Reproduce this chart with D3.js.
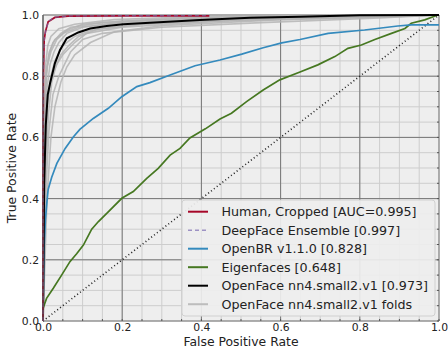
<!DOCTYPE html>
<html>
<head>
<meta charset="utf-8">
<script src="https://cdn.jsdelivr.net/npm/d3@7"></script>
<style>
  html, body { margin: 0; padding: 0; background: #ffffff; }
  svg { display: block; font-family: "DejaVu Sans", sans-serif; }
</style>
</head>
<body>
<svg id="chart" width="448" height="351"></svg>
<script>
// ROC curves: [false positive rate, true positive rate]
const humanCropped = [[0,0],[0,0.5],[0.001,0.8],[0.003,0.918],[0.006,0.945],[0.013,0.978],[0.03,0.992],[0.063,0.996],[0.2,0.997],[0.42,0.997]];
const deepFace = [[0,0],[0,0.55],[0.001,0.82],[0.003,0.92],[0.007,0.95],[0.014,0.98],[0.03,0.993],[0.07,0.997],[0.42,0.998]];
const openBR = [[0,0],[0.001,0.12],[0.003,0.25],[0.006,0.33],[0.01,0.39],[0.013,0.43],[0.022,0.47],[0.035,0.515],[0.056,0.564],[0.077,0.602],[0.093,0.626],[0.127,0.662],[0.165,0.695],[0.199,0.733],[0.237,0.766],[0.27,0.779],[0.321,0.804],[0.384,0.834],[0.447,0.853],[0.502,0.872],[0.556,0.893],[0.603,0.909],[0.649,0.92],[0.72,0.94],[0.812,0.951],[0.896,0.964],[0.93,0.968],[1,0.968]];
const eigenfaces = [[0,0],[0,0.041],[0.009,0.074],[0.026,0.107],[0.047,0.15],[0.068,0.194],[0.085,0.22],[0.102,0.248],[0.123,0.3],[0.14,0.325],[0.161,0.352],[0.199,0.401],[0.228,0.423],[0.262,0.466],[0.291,0.499],[0.321,0.542],[0.346,0.564],[0.371,0.598],[0.41,0.628],[0.447,0.66],[0.476,0.679],[0.514,0.717],[0.556,0.755],[0.598,0.788],[0.649,0.814],[0.694,0.837],[0.737,0.864],[0.77,0.891],[0.804,0.902],[0.838,0.92],[0.88,0.94],[0.914,0.956],[0.93,0.973],[0.964,0.984],[0.997,1],[1,1]];
const openFace = [[0,0],[0.003,0.45],[0.007,0.64],[0.012,0.74],[0.018,0.778],[0.03,0.842],[0.043,0.886],[0.06,0.924],[0.089,0.943],[0.119,0.956],[0.161,0.964],[0.203,0.97],[0.27,0.975],[0.396,0.984],[0.523,0.991],[0.649,0.994],[0.8,0.999],[1,1]];
const openFaceFolds = [
  [[0,0],[0.003,0.55],[0.006,0.75],[0.01,0.83],[0.02,0.88],[0.035,0.92],[0.06,0.95],[0.1,0.97],[0.2,0.98],[0.4,0.99],[0.7,0.997],[1,1]],
  [[0,0],[0.005,0.5],[0.01,0.7],[0.02,0.8],[0.03,0.85],[0.05,0.9],[0.08,0.93],[0.12,0.95],[0.25,0.97],[0.5,0.985],[0.8,0.997],[1,1]],
  [[0,0],[0.004,0.6],[0.008,0.8],[0.015,0.87],[0.025,0.91],[0.045,0.94],[0.07,0.96],[0.15,0.975],[0.35,0.99],[0.6,0.997],[1,1]],
  [[0,0],[0.008,0.45],[0.015,0.62],[0.025,0.74],[0.04,0.8],[0.055,0.84],[0.07,0.88],[0.1,0.92],[0.15,0.94],[0.3,0.96],[0.55,0.975],[0.85,0.99],[1,1]],
  [[0,0],[0.003,0.65],[0.007,0.84],[0.012,0.9],[0.02,0.93],[0.04,0.955],[0.08,0.97],[0.18,0.985],[0.4,0.995],[1,1]],
  [[0,0],[0.006,0.55],[0.012,0.72],[0.02,0.79],[0.035,0.84],[0.05,0.87],[0.08,0.91],[0.11,0.94],[0.2,0.96],[0.45,0.98],[0.75,0.99],[1,1]],
  [[0,0],[0.01,0.4],[0.02,0.6],[0.03,0.7],[0.045,0.78],[0.06,0.83],[0.08,0.87],[0.12,0.91],[0.18,0.945],[0.3,0.965],[0.6,0.985],[0.9,0.995],[1,1]],
  [[0,0],[0.004,0.7],[0.009,0.82],[0.016,0.88],[0.03,0.92],[0.05,0.94],[0.09,0.96],[0.2,0.975],[0.45,0.985],[0.8,0.995],[1,1]],
  [[0,0],[0.007,0.5],[0.014,0.68],[0.022,0.78],[0.032,0.83],[0.045,0.87],[0.065,0.9],[0.09,0.93],[0.14,0.955],[0.25,0.97],[0.5,0.985],[1,1]],
  [[0,0],[0.005,0.6],[0.01,0.76],[0.018,0.84],[0.028,0.88],[0.04,0.91],[0.06,0.94],[0.1,0.96],[0.22,0.98],[0.5,0.99],[1,1]]
];
const chance = [[0,0],[1,1]];

const legendLabels = ["Human, Cropped [AUC=0.995]", "DeepFace Ensemble [0.997]", "OpenBR v1.1.0 [0.828]", "Eigenfaces [0.648]", "OpenFace nn4.small2.v1 [0.973]", "OpenFace nn4.small2.v1 folds"];
const majorTicks = [0, 0.2, 0.4, 0.6, 0.8, 1.0];
const minorTicks = d3.range(0, 21).map(i => i / 20);

const svg = d3.select("#chart");
const plotLeft = 43, plotRight = 439, plotTop = 15, plotBottom = 321;
const x = d3.scaleLinear().domain([0, 1]).range([plotLeft, plotRight]);
const y = d3.scaleLinear().domain([0, 1]).range([plotBottom, plotTop]);

// Plot background
svg.append("rect").attr("x", plotLeft).attr("y", plotTop)
  .attr("width", plotRight - plotLeft).attr("height", plotBottom - plotTop).attr("fill", "#eeeeee");

// Grid: minor lines then major lines
const grid = svg.append("g");
function gridLines(cls, values, color) {
  grid.selectAll("." + cls + "v").data(values).join("line").attr("class", cls + "v")
    .attr("x1", d => x(d)).attr("x2", d => x(d)).attr("y1", plotTop).attr("y2", plotBottom)
    .attr("stroke", color).attr("stroke-width", 1);
  grid.selectAll("." + cls + "h").data(values).join("line").attr("class", cls + "h")
    .attr("y1", d => y(d)).attr("y2", d => y(d)).attr("x1", plotLeft).attr("x2", plotRight)
    .attr("stroke", color).attr("stroke-width", 1);
}
gridLines("minor", minorTicks, "#cdcdcd");
gridLines("major", majorTicks, "#777777");

// Small inward minor ticks on the right and bottom edges
svg.append("g").selectAll("line").data(minorTicks).join("line")
  .attr("x1", plotRight - 2).attr("x2", plotRight).attr("y1", d => y(d)).attr("y2", d => y(d))
  .attr("stroke", "#555");
svg.append("g").selectAll("line").data(minorTicks).join("line")
  .attr("x1", d => x(d)).attr("x2", d => x(d)).attr("y1", plotBottom - 2).attr("y2", plotBottom)
  .attr("stroke", "#555");

const line = d3.line().x(d => x(d[0])).y(d => y(d[1]));
const plot = svg.append("g");

plot.append("path").datum(chance).attr("d", line).attr("fill", "none")
  .attr("stroke", "#222").attr("stroke-width", 1.6).attr("stroke-dasharray", "1,2.6");

plot.selectAll(".fold").data(openFaceFolds).join("path").attr("class", "fold")
  .attr("d", line).attr("fill", "none").attr("stroke", "#b4b4b4")
  .attr("stroke-width", 1.6).attr("stroke-opacity", 0.85);

plot.append("path").datum(eigenfaces).attr("d", line).attr("fill", "none")
  .attr("stroke", "#467821").attr("stroke-width", 1.7);
plot.append("path").datum(openBR).attr("d", line).attr("fill", "none")
  .attr("stroke", "#348abd").attr("stroke-width", 1.7);
plot.append("path").datum(openFace).attr("d", line).attr("fill", "none")
  .attr("stroke", "#000000").attr("stroke-width", 2);
plot.append("path").datum(humanCropped).attr("d", line).attr("fill", "none")
  .attr("stroke", "#a60628").attr("stroke-width", 1.7);
plot.append("path").datum(deepFace).attr("d", line).attr("fill", "none")
  .attr("stroke", "#7a68a6").attr("stroke-width", 1.4).attr("stroke-dasharray", "4,3")
  .attr("stroke-opacity", 0.7);

// Left spine
svg.append("line").attr("x1", plotLeft).attr("x2", plotLeft).attr("y1", plotTop).attr("y2", plotBottom)
  .attr("stroke", "#555").attr("stroke-width", 1);

// Axes (labels only; grid supplies the lines)
const fmt = d3.format(".1f");
const xAxis = svg.append("g").attr("transform", `translate(0,${plotBottom})`)
  .call(d3.axisBottom(x).tickValues(majorTicks).tickFormat(fmt).tickSize(0).tickPadding(2));
const yAxis = svg.append("g").attr("transform", `translate(${plotLeft},0)`)
  .call(d3.axisLeft(y).tickValues(majorTicks).tickFormat(fmt).tickSize(0).tickPadding(4));
[xAxis, yAxis].forEach(a => {
  a.select(".domain").remove();
  a.selectAll("text").attr("font-family", "DejaVu Sans").attr("font-size", 10.8).attr("fill", "#222");
});

svg.append("text").attr("x", (plotLeft + plotRight) / 2).attr("y", 346)
  .attr("text-anchor", "middle").attr("font-size", 12.4).attr("fill", "#222")
  .text("False Positive Rate");
svg.append("text").attr("transform", `translate(16,${(plotTop + plotBottom) / 2}) rotate(-90)`)
  .attr("text-anchor", "middle").attr("font-size", 12.4).attr("fill", "#222")
  .text("True Positive Rate");

// Legend
const legendStyles = [
  { color: "#a60628", dash: null, width: 2 },
  { color: "#9d92c4", dash: "4,3", width: 1.6 },
  { color: "#348abd", dash: null, width: 2 },
  { color: "#467821", dash: null, width: 2 },
  { color: "#000000", dash: null, width: 2 },
  { color: "#bdbdbd", dash: null, width: 2 }
];
const legend = svg.append("g");
legend.append("rect").attr("x", 182).attr("y", 200).attr("width", 253).attr("height", 116)
  .attr("rx", 3).attr("fill", "#eeeeee").attr("fill-opacity", 0.92)
  .attr("stroke", "#d0d0d0").attr("stroke-width", 1);
const rows = legend.selectAll("g.row").data(legendLabels).join("g").attr("class", "row")
  .attr("transform", (d, i) => `translate(0,${211.7 + i * 18.5})`);
rows.append("line").attr("x1", 188).attr("x2", 208).attr("y1", 0).attr("y2", 0)
  .attr("stroke", (d, i) => legendStyles[i].color)
  .attr("stroke-width", (d, i) => legendStyles[i].width)
  .attr("stroke-dasharray", (d, i) => legendStyles[i].dash);
rows.append("text").attr("x", 221.5).attr("y", 4.5).attr("font-size", 12.7).attr("fill", "#222")
  .text(d => d);
</script>
</body>
</html>
